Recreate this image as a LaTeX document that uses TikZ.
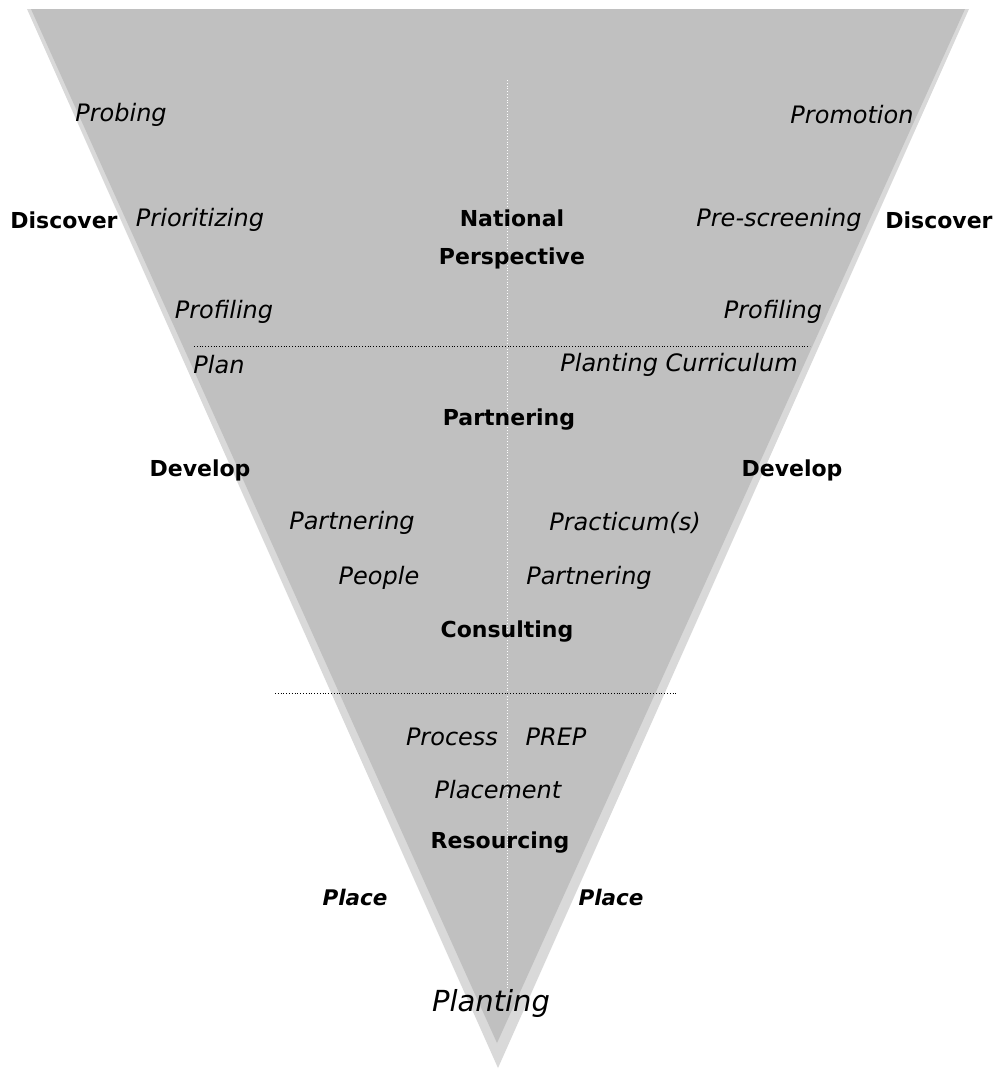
\documentclass[tikz,border=0pt]{standalone}
\usepackage{fontspec}
\setmainfont{DejaVu Sans}
\definecolor{outergray}{HTML}{D9D9D9}
\definecolor{innergray}{HTML}{C0C0C0}
\tikzset{
  itlabel/.style={font=\fontsize{24}{28}\selectfont\itshape, inner sep=0pt, anchor=center},
  bdlabel/.style={font=\fontsize{22}{38}\selectfont\bfseries, inner sep=0pt, anchor=center, align=center},
  bilabel/.style={font=\fontsize{21.5}{26}\selectfont\bfseries\itshape, inner sep=0pt, anchor=center},
  sepline/.style={black, line width=0.8pt, dotted},
  midline/.style={white, line width=0.8pt, dotted}
}
\begin{document}
\begin{tikzpicture}[x=1pt,y=-1pt]
\useasboundingbox (0,0) rectangle (998,1069);
% funnel
\fill[outergray] (27,9) -- (969,9) -- (498,1068) -- cycle;
\fill[innergray] (31,9) -- (965,9) -- (497,1043) -- cycle;
% dividers
\draw[midline] (507,80) -- (507,990);
\draw[sepline] (194,346) -- (810,346);
\draw[sepline] (275,693) -- (678,693);
% labels
\node[itlabel] (probing) at (121,115) {Probing};
\node[itlabel] (promotion) at (852,115) {Promotion};
\node[bdlabel] (discL) at (64,220) {Discover};
\node[itlabel] (prior) at (200,220) {Prioritizing};
\node[bdlabel] (natp) at (512,239) {National\\Perspective};
\node[itlabel] (presc) at (779,220) {Pre-screening};
\node[bdlabel] (discR) at (939,220) {Discover};
\node[itlabel] (profL) at (224,312) {Profiling};
\node[itlabel] (profR) at (773,312) {Profiling};
\node[itlabel] (plan) at (219,365) {Plan};
\node[itlabel] (curr) at (679,365) {Planting Curriculum};
\node[bdlabel] (partB) at (509,420) {Partnering};
\node[bdlabel] (devL) at (200,470) {Develop};
\node[bdlabel] (devR) at (792,470) {Develop};
\node[itlabel] (partL) at (352,523) {Partnering};
\node[itlabel] (pract) at (625,523) {Practicum(s)};
\node[itlabel] (people) at (379,578) {People};
\node[itlabel] (partR) at (589,578) {Partnering};
\node[bdlabel] (consult) at (507,632) {Consulting};
\node[itlabel] (process) at (452,737) {Process};
\node[itlabel] (prep) at (556,737) {PREP};
\node[itlabel] (placement) at (498,790) {Placement};
\node[bdlabel] (resourcing) at (500,843) {Resourcing};
\node[bilabel] (placeL) at (355,897) {Place};
\node[bilabel] (placeR) at (611,897) {Place};
\node[itlabel, font=\fontsize{29}{32}\selectfont\itshape] (planting) at (491,1003) {Planting};
\end{tikzpicture}
\end{document}
